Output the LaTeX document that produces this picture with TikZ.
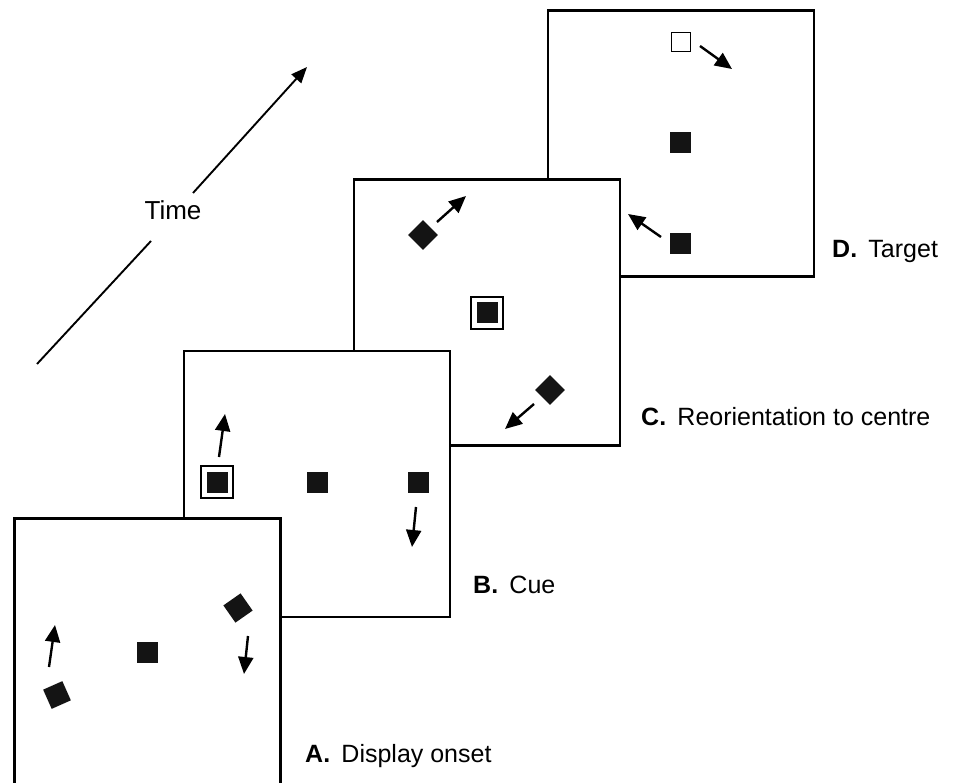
\documentclass[tikz,border=0pt]{standalone}
\usepackage{fontspec}
\setmainfont{Liberation Sans}
\usetikzlibrary{arrows.meta}
\begin{document}
\begin{tikzpicture}[x=1pt,y=-1pt,
 frame/.style={draw,line width=2.3pt,fill=white,minimum size=266pt,inner sep=0pt,outer sep=0pt},
 blk/.style={fill=black!92,minimum size=21pt,inner sep=0pt,outer sep=0pt},
 hollow/.style={draw,line width=1.6pt,fill=white,minimum size=19pt,inner sep=0pt},
 cuebox/.style={draw,line width=1.7pt,minimum size=32pt,inner sep=0pt},
 mv/.style={line width=2.4pt,-{Triangle[length=17pt,width=15pt]}},
 lab/.style={anchor=base west,font=\fontsize{25}{30}\selectfont,inner sep=0pt},
 timeline/.style={line width=1.9pt}
]
\useasboundingbox (0,0) rectangle (953,783);
% frames, back to front
\node[frame] (D) at (681,143.5) {};
\node[frame] (C) at (487,312.5) {};
\node[frame] (B) at (317,484) {};
\node[frame] (A) at (147.5,651.5) {};

% Frame D: Target
\node[hollow] (d1) at (681,42) {};
\node[blk] (d2) at (680,143) {};
\node[blk] (d3) at (680,244) {};
\coordinate (d1s) at (700,46); \coordinate (d1e) at (732,69);
\coordinate (d3s) at (661,237); \coordinate (d3e) at (628,214);
\draw[mv] (d1s) -- (d1e);
\draw[mv] (d3s) -- (d3e);

% Frame C: Reorientation
\node[blk,rotate=45] (c1) at (423,235) {};
\node[cuebox] (ccue) at (487,313) {};
\node[blk] (c2) at (487,313) {};
\node[blk,rotate=45] (c3) at (550,390) {};
\coordinate (c1s) at (437,222); \coordinate (c1e) at (466,196);
\coordinate (c3s) at (534,404); \coordinate (c3e) at (505,429);
\draw[mv] (c1s) -- (c1e);
\draw[mv] (c3s) -- (c3e);

% Frame B: Cue
\node[cuebox] (bcue) at (217,482) {};
\node[blk] (b1) at (217,482) {};
\node[blk] (b2) at (317,482) {};
\node[blk] (b3) at (418,482) {};
\coordinate (b1s) at (219,457); \coordinate (b1e) at (225,414);
\coordinate (b3s) at (416,507); \coordinate (b3e) at (412,547);
\draw[mv] (b1s) -- (b1e);
\draw[mv] (b3s) -- (b3e);

% Frame A: Display onset
\node[blk] (a1) at (147,652) {};
\node[blk,rotate=24] (a2) at (57,695) {};
\node[blk,rotate=35] (a3) at (238,608) {};
\coordinate (a2s) at (49,667); \coordinate (a2e) at (55,625);
\coordinate (a3s) at (248,636); \coordinate (a3e) at (244,674);
\draw[mv] (a2s) -- (a2e);
\draw[mv] (a3s) -- (a3e);

% labels
\node[lab] (lD) at (832,258) {\textbf{D.}\hspace{0.45em}Target};
\node[lab] (lC) at (641,425) {\textbf{C.}\hspace{0.45em}Reorientation to centre};
\node[lab] (lB) at (473,593) {\textbf{B.}\hspace{0.45em}Cue};
\node[lab] (lA) at (305,762) {\textbf{A.}\hspace{0.45em}Display onset};

% time arrow
\node[font=\fontsize{26}{30}\selectfont,inner sep=0pt] (time) at (173,210) {Time};
\coordinate (t0) at (37,364); \coordinate (t1) at (151,241);
\coordinate (t2) at (193,193); \coordinate (t3) at (307,67);
\draw[timeline] (t0) -- (t1);
\draw[timeline,-{Triangle[length=16pt,width=13pt]}] (t2) -- (t3);
\end{tikzpicture}
\end{document}
